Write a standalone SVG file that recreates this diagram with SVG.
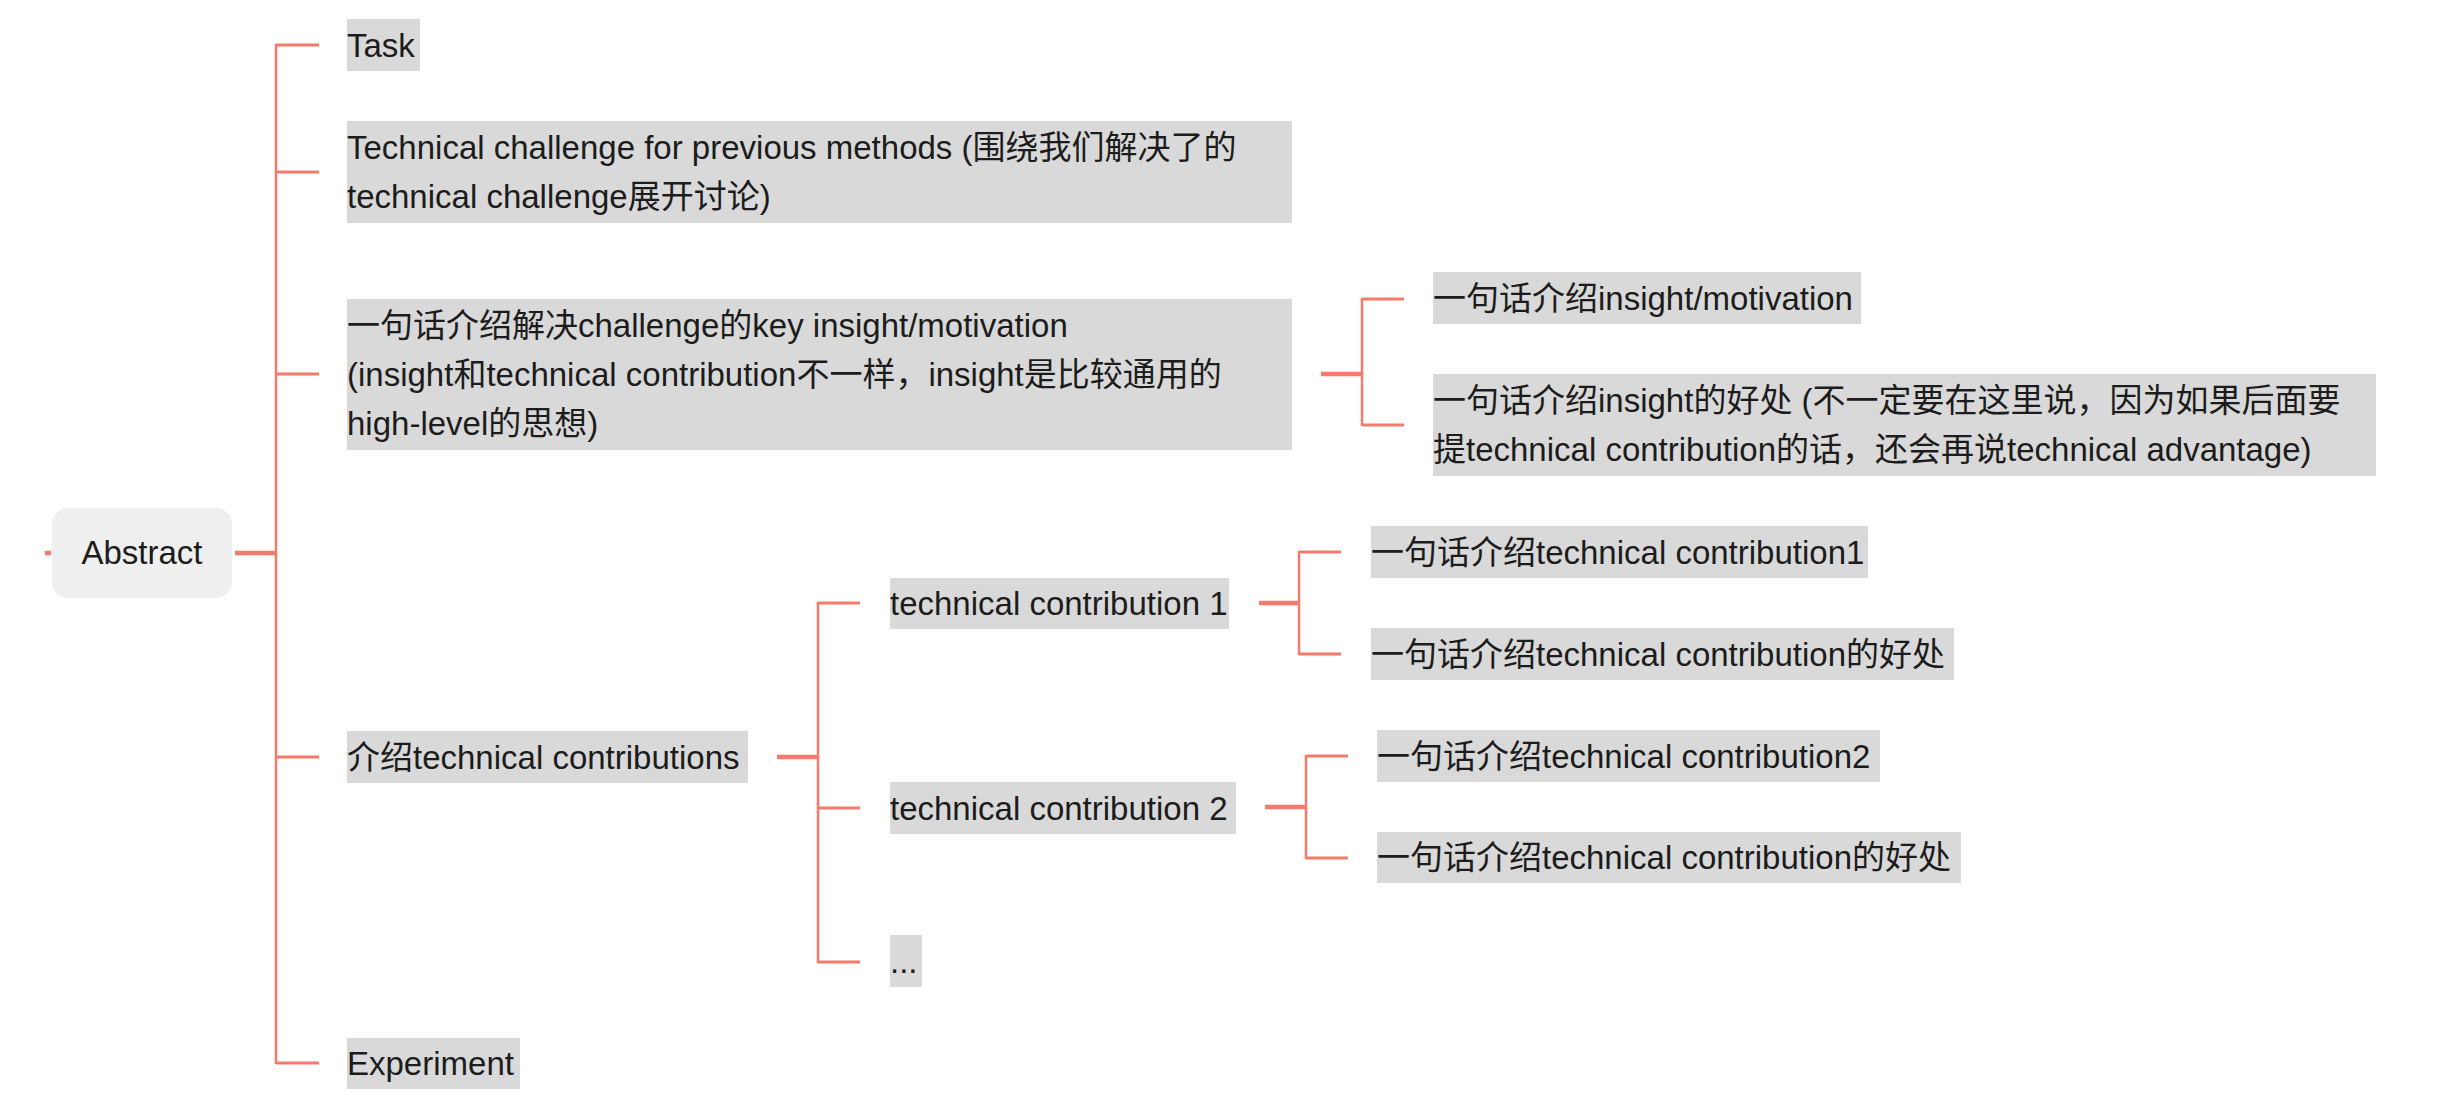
<svg xmlns="http://www.w3.org/2000/svg" width="2440" height="1112" viewBox="0 0 2440 1112">
<style>
.bg{fill:#d9d9d9}
.root{fill:#efefef}
text{font-family:"Liberation Sans","Noto Sans CJK SC",sans-serif;font-size:33px;fill:#1c1c1c}
.c{fill:none;stroke:#f47a6b;stroke-linecap:butt}
.v{stroke-width:2.5}
.s{stroke-width:3}
.o{stroke-width:4.5}
</style>
<rect width="2440" height="1112" fill="#ffffff"/>
<g id="connectors">
<line class="c o" x1="45" y1="553" x2="51" y2="553"/>
<line class="c o" x1="235" y1="553" x2="277" y2="553"/>
<line class="c v" x1="276" y1="44" x2="276" y2="1064"/>
<line class="c s" x1="276" y1="45" x2="319" y2="45"/>
<line class="c s" x1="276" y1="172" x2="319" y2="172"/>
<line class="c s" x1="276" y1="374" x2="319" y2="374"/>
<line class="c s" x1="276" y1="757" x2="319" y2="757"/>
<line class="c s" x1="276" y1="1063" x2="319" y2="1063"/>
<line class="c o" x1="1321" y1="374" x2="1363" y2="374"/>
<line class="c v" x1="1362" y1="298" x2="1362" y2="426"/>
<line class="c s" x1="1362" y1="299" x2="1404" y2="299"/>
<line class="c s" x1="1362" y1="425" x2="1404" y2="425"/>
<line class="c o" x1="777" y1="757" x2="819" y2="757"/>
<line class="c v" x1="818" y1="602" x2="818" y2="963"/>
<line class="c s" x1="818" y1="603" x2="860" y2="603"/>
<line class="c s" x1="818" y1="808" x2="860" y2="808"/>
<line class="c s" x1="818" y1="962" x2="860" y2="962"/>
<line class="c o" x1="1259" y1="603" x2="1300" y2="603"/>
<line class="c v" x1="1299" y1="551" x2="1299" y2="655"/>
<line class="c s" x1="1299" y1="552" x2="1341" y2="552"/>
<line class="c s" x1="1299" y1="654" x2="1341" y2="654"/>
<line class="c o" x1="1265" y1="807" x2="1307" y2="807"/>
<line class="c v" x1="1306" y1="755" x2="1306" y2="859"/>
<line class="c s" x1="1306" y1="756" x2="1348" y2="756"/>
<line class="c s" x1="1306" y1="858" x2="1348" y2="858"/>
</g>
<g id="abstract">
<rect class="root" x="52" y="508" width="180" height="90" rx="16"/>
<text x="142" y="564" text-anchor="middle">Abstract</text>
</g>
<g id="task">
<rect class="bg" x="347" y="19" width="73" height="52"/>
<text x="347" y="57">Task</text>
</g>
<g id="challenge">
<rect class="bg" x="347" y="121" width="945" height="102"/>
<text x="347" y="159">Technical challenge for previous methods (围绕我们解决了的</text>
<text x="347" y="208">technical challenge展开讨论)</text>
</g>
<g id="insight">
<rect class="bg" x="347" y="299" width="945" height="151"/>
<text x="347" y="337">一句话介绍解决challenge的key insight/motivation</text>
<text x="347" y="386">(insight和technical contribution不一样，insight是比较通用的</text>
<text x="347" y="435">high-level的思想)</text>
</g>
<g id="insight-1">
<rect class="bg" x="1433" y="272" width="428" height="52"/>
<text x="1433" y="310">一句话介绍insight/motivation</text>
</g>
<g id="insight-2">
<rect class="bg" x="1433" y="374" width="943" height="102"/>
<text x="1433" y="412">一句话介绍insight的好处 (不一定要在这里说，因为如果后面要</text>
<text x="1433" y="461">提technical contribution的话，还会再说technical advantage)</text>
</g>
<g id="contributions">
<rect class="bg" x="347" y="731" width="401" height="52"/>
<text x="347" y="769">介绍technical contributions</text>
</g>
<g id="tc1">
<rect class="bg" x="890" y="578" width="339" height="51"/>
<text x="890" y="615">technical contribution 1</text>
</g>
<g id="tc2">
<rect class="bg" x="890" y="782" width="346" height="52"/>
<text x="890" y="820">technical contribution 2</text>
</g>
<g id="tc-more">
<rect class="bg" x="890" y="935" width="32" height="52"/>
<text x="890" y="973">...</text>
</g>
<g id="experiment">
<rect class="bg" x="347" y="1038" width="173" height="51"/>
<text x="347" y="1075">Experiment</text>
</g>
<g id="tc1-a">
<rect class="bg" x="1371" y="526" width="497" height="52"/>
<text x="1371" y="564">一句话介绍technical contribution1</text>
</g>
<g id="tc1-b">
<rect class="bg" x="1371" y="628" width="583" height="52"/>
<text x="1371" y="666">一句话介绍technical contribution的好处</text>
</g>
<g id="tc2-a">
<rect class="bg" x="1377" y="730" width="503" height="52"/>
<text x="1377" y="768">一句话介绍technical contribution2</text>
</g>
<g id="tc2-b">
<rect class="bg" x="1377" y="832" width="584" height="51"/>
<text x="1377" y="869">一句话介绍technical contribution的好处</text>
</g>
</svg>
